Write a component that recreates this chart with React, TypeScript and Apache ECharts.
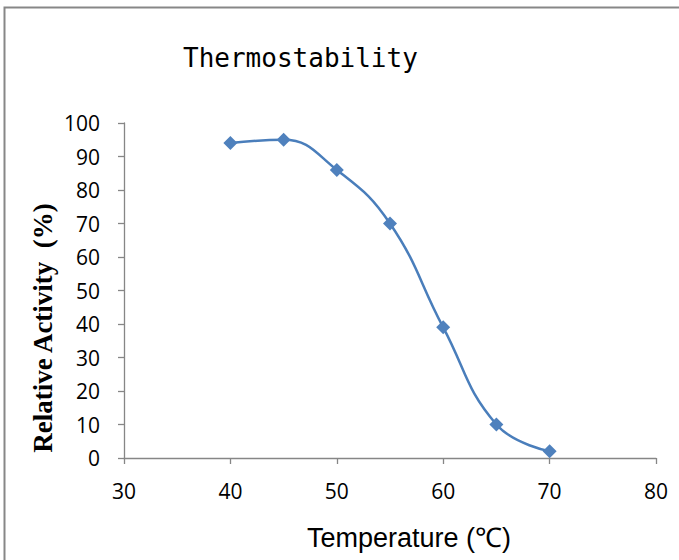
import React, { useEffect, useRef } from "react";
import * as echarts from "echarts";

const temperatures = [40, 45, 50, 55, 60, 65, 70];
const activity = [94, 95, 86, 70, 39, 10, 2];
const titleText = "Thermostability";
const xName = "Temperature (℃)";
const yName = "Relative Activity  (%)";

export default function App() {
  const ref = useRef<HTMLDivElement>(null);
  useEffect(() => {
    if (!ref.current) return;
    const chart = echarts.init(ref.current, undefined, { renderer: "svg" });
    const axisColor = "#868686";
    chart.setOption({
      animation: false,
      backgroundColor: "#ffffff",
      title: {
        text: titleText,
        left: 183,
        top: 45,
        padding: 0,
        textStyle: {
          fontFamily: "DejaVu Sans Mono",
          fontSize: 26,
          fontWeight: "normal",
          color: "#000",
        },
      },
      grid: { left: 124, right: 23, top: 123, bottom: 102, containLabel: false },
      xAxis: {
        type: "value",
        min: 30,
        max: 80,
        interval: 10,
        axisLine: { lineStyle: { color: axisColor, width: 1.3 } },
        axisTick: { show: true, inside: false, length: 6, lineStyle: { color: axisColor, width: 1.3 } },
        axisLabel: { margin: 22, fontFamily: "Open Sans", fontSize: 21, color: "#000" },
        splitLine: { show: false },
      },
      yAxis: {
        type: "value",
        min: 0,
        max: 100,
        interval: 10,
        axisLine: { show: true, lineStyle: { color: axisColor, width: 1.3 } },
        axisTick: { show: true, inside: false, length: 6, lineStyle: { color: axisColor, width: 1.3 } },
        axisLabel: { margin: 24, fontFamily: "Open Sans", fontSize: 21, color: "#000" },
        splitLine: { show: false },
      },
      graphic: [
        {
          type: "rect",
          shape: { x: 4.5, y: 7.5, width: 720, height: 620 },
          style: { fill: "none", stroke: "#878787", lineWidth: 2 },
          silent: true,
        },
        {
          type: "text",
          x: 409,
          y: 538,
          style: {
            text: xName,
            fontFamily: "Liberation Sans",
            fontSize: 27,
            fill: "#000",
            textAlign: "center",
            textVerticalAlign: "middle",
          },
        },
        {
          type: "text",
          x: 43,
          y: 328,
          rotation: Math.PI / 2,
          style: {
            text: yName,
            fontFamily: "Liberation Serif",
            fontWeight: "bold",
            fontSize: 27,
            fill: "#000",
            textAlign: "center",
            textVerticalAlign: "middle",
          },
        },
      ],
      series: [
        {
          type: "line",
          data: temperatures.map((t, i) => [t, activity[i]]),
          smooth: 0.45,
          symbol: "diamond",
          symbolSize: 14,
          lineStyle: { color: "#4a7ebb", width: 2.5 },
          itemStyle: { color: "#4f81bd" },
        },
      ],
    });
    return () => chart.dispose();
  }, []);
  return (
    <div
      ref={ref}
      style={{ position: "absolute", left: 0, top: 0, width: 679, height: 560 }}
    />
  );
}
